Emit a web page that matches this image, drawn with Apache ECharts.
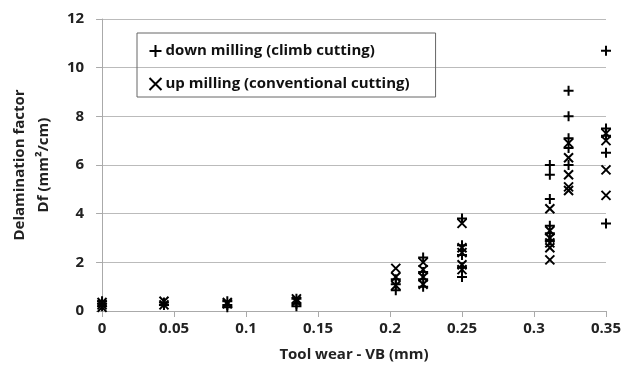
<!DOCTYPE html>
<html><head><meta charset="utf-8">
<script src="https://cdn.jsdelivr.net/npm/echarts@6/dist/echarts.min.js"></script>
<style>html,body{margin:0;padding:0;background:#fff}#c{width:626px;height:373px}</style>
</head><body><div id="c"></div>
<script>
var seriesNames = ['down milling (climb cutting)', 'up milling (conventional cutting)'];
var xTicks = [0, 0.05, 0.1, 0.15, 0.2, 0.25, 0.3, 0.35];
var yTicks = [0, 2, 4, 6, 8, 10, 12];
// [tool wear VB, Df]
var downMilling = [
  [0, 0.4], [0, 0.3], [0, 0.2],
  [0.043, 0.35], [0.043, 0.25],
  [0.087, 0.4], [0.087, 0.25], [0.087, 0.15],
  [0.135, 0.5], [0.135, 0.3], [0.135, 0.2],
  [0.204, 1.3], [0.204, 1.1], [0.204, 0.85],
  [0.223, 2.2], [0.223, 1.6], [0.223, 1.3], [0.223, 1.0],
  [0.25, 3.8], [0.25, 2.7], [0.25, 2.3], [0.25, 1.8], [0.25, 1.4],
  [0.311, 6.0], [0.311, 5.6], [0.311, 4.6], [0.311, 3.5], [0.311, 3.2], [0.311, 2.9],
  [0.324, 9.05], [0.324, 8.0], [0.324, 7.1], [0.324, 6.7], [0.324, 6.0],
  [0.35, 10.7], [0.35, 7.5], [0.35, 7.2], [0.35, 6.5], [0.35, 3.6]
];
var upMilling = [
  [0, 0.35], [0, 0.25], [0, 0.15],
  [0.043, 0.4], [0.043, 0.25],
  [0.087, 0.35], [0.087, 0.3],
  [0.135, 0.5], [0.135, 0.4],
  [0.204, 1.75], [0.204, 1.4], [0.204, 1.05],
  [0.223, 2.0], [0.223, 1.7], [0.223, 1.4], [0.223, 1.1],
  [0.25, 3.6], [0.25, 2.6], [0.25, 2.4], [0.25, 1.9], [0.25, 1.7],
  [0.311, 4.2], [0.311, 3.3], [0.311, 3.0], [0.311, 2.8], [0.311, 2.6], [0.311, 2.1],
  [0.324, 6.9], [0.324, 6.3], [0.324, 5.6], [0.324, 5.1], [0.324, 4.95],
  [0.35, 7.3], [0.35, 7.0], [0.35, 5.8], [0.35, 4.75]
];

var plusPath = 'path://M5,0 L5,10 M0,5 L10,5';
var crossPath = 'path://M0,0 L10,10 M10,0 L0,10';
var FONT = '"Open Sans", "Noto Sans", sans-serif';

var chart = echarts.init(document.getElementById('c'), null, {renderer: 'canvas'});
chart.setOption({
  animation: false,
  textStyle: {fontFamily: FONT},
  grid: {left: 100, right: 20, top: 19, bottom: 62},
  legend: {
    orient: 'vertical', left: 137, top: 33,
    padding: [8, 26, 3, 10],
    itemGap: 13,
    itemWidth: 12, itemHeight: 12,
    borderColor: '#666', borderWidth: 1,
    textStyle: {fontFamily: FONT, fontSize: 15, fontWeight: 'bold', color: '#111', padding: [0, 0, 0, -1], lineHeight: 20},
    data: [
      {name: seriesNames[0], icon: plusPath, itemStyle: {color: 'none', borderColor: '#000', borderWidth: 2}},
      {name: seriesNames[1], icon: crossPath, itemStyle: {color: 'none', borderColor: '#000', borderWidth: 2}}
    ]
  },
  xAxis: {
    type: 'value', min: xTicks[0], max: xTicks[xTicks.length - 1], interval: 0.05,
    name: 'Tool wear - VB (mm)', nameLocation: 'middle', nameGap: 36,
    nameTextStyle: {fontFamily: FONT, fontSize: 15, fontWeight: 'bold', color: '#222'},
    axisLine: {show: true, lineStyle: {color: '#aaa', width: 1}},
    axisTick: {show: true, length: 6, lineStyle: {color: '#aaa'}},
    axisLabel: {fontFamily: FONT, fontSize: 15, fontWeight: 'bold', color: '#222', margin: 10,
      formatter: function (v) { return String(+v.toFixed(2)); }},
    splitLine: {show: false}
  },
  yAxis: {
    type: 'value', min: yTicks[0], max: yTicks[yTicks.length - 1], interval: 2,
    name: 'Delamination factor\nDf (mm²/cm)', nameLocation: 'middle', nameGap: 42,
    nameRotate: 90,
    nameTextStyle: {fontFamily: FONT, fontSize: 15, fontWeight: 'bold', color: '#222', lineHeight: 24},
    axisLine: {show: true, lineStyle: {color: '#aaa', width: 1}},
    axisTick: {show: true, length: 6, lineStyle: {color: '#aaa'}},
    axisLabel: {fontFamily: FONT, fontSize: 15, fontWeight: 'bold', color: '#222', margin: 18},
    splitLine: {show: true, lineStyle: {color: '#bbb', width: 1}}
  },
  series: [
    {name: seriesNames[0], type: 'scatter', data: downMilling, symbol: plusPath, symbolSize: 10,
     itemStyle: {color: 'none', borderColor: '#000', borderWidth: 2, opacity: 1}},
    {name: seriesNames[1], type: 'scatter', data: upMilling, symbol: crossPath, symbolSize: 9,
     itemStyle: {color: 'none', borderColor: '#000', borderWidth: 2, opacity: 1}}
  ]
});
</script></body></html>
